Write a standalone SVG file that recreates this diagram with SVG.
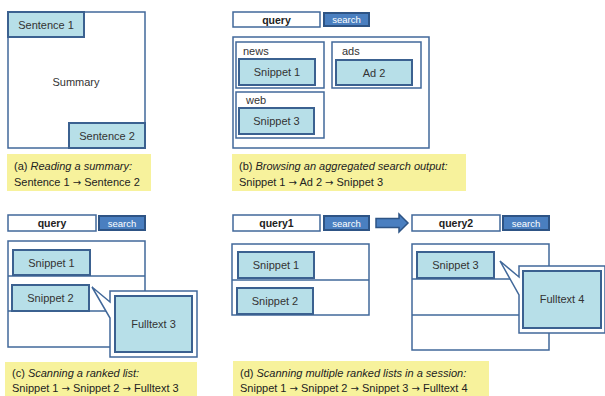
<svg xmlns="http://www.w3.org/2000/svg" width="605" height="396" viewBox="0 0 605 396">
  <style>
    text { font-family: "Liberation Sans", "DejaVu Sans", sans-serif; fill: #333; }
    .frame { fill: #fff; stroke: #41689a; stroke-width: 1.5; }
    .card { fill: #b7dfe8; stroke: #3b6190; stroke-width: 2; }
    .qbox { fill: #fff; stroke: #41689a; stroke-width: 1.5; }
    .btn { fill: #4a7fc0; stroke: #2e5485; stroke-width: 2; }
    .btnlbl { fill: #fff; font-size: 9.5px; text-anchor: middle; }
    .qlbl { font-size: 10.5px; font-weight: bold; text-anchor: middle; fill: #222; }
    .lbl { font-size: 11px; text-anchor: middle; }
    .tag { font-size: 11px; }
    .cap { fill: #f7f29c; }
    .captxt { font-size: 11px; fill: #222; }
    .it { font-style: italic; }
    .arr { font-family: "DejaVu Sans", sans-serif; font-size: 10px; }
    .line { stroke: #41689a; stroke-width: 1.5; fill: none; }
  </style>

  <!-- (a) summary -->
  <g id="summary">
    <rect class="frame" x="8" y="12" width="137" height="136"/>
    <text class="lbl" x="76" y="86">Summary</text>
  </g>
  <g id="sentence1">
    <rect class="card" x="8" y="12" width="76" height="25"/>
    <text class="lbl" x="46" y="28.5">Sentence 1</text>
  </g>
  <g id="sentence2">
    <rect class="card" x="69" y="123" width="76" height="25"/>
    <text class="lbl" x="107" y="139.5">Sentence 2</text>
  </g>
  <g id="caption-a">
    <rect class="cap" x="7" y="154" width="144" height="37"/>
    <text class="captxt" x="14" y="170">(a) <tspan class="it">Reading a summary:</tspan></text>
    <text class="captxt" x="14" y="186">Sentence 1 <tspan class="arr">→</tspan> Sentence 2</text>
  </g>

  <!-- (b) aggregated search -->
  <g id="query-b">
    <rect class="qbox" x="233" y="12" width="87" height="15"/>
    <text class="qlbl" x="276.5" y="23.5">query</text>
    <rect class="btn" x="324" y="13" width="45" height="13"/>
    <text class="btnlbl" x="346.5" y="23">search</text>
  </g>
  <g id="results-b">
    <rect class="frame" x="233" y="37" width="196" height="111"/>
  </g>
  <g id="news">
    <rect class="frame" x="236" y="42" width="88" height="46"/>
    <text class="tag" x="243" y="55">news</text>
    <rect class="card" x="239" y="59" width="76" height="26"/>
    <text class="lbl" x="277" y="76">Snippet 1</text>
  </g>
  <g id="ads">
    <rect class="frame" x="332" y="42" width="89" height="46"/>
    <text class="tag" x="342" y="55">ads</text>
    <rect class="card" x="336" y="60" width="76" height="25"/>
    <text class="lbl" x="374" y="76.5">Ad 2</text>
  </g>
  <g id="web">
    <rect class="frame" x="236" y="92" width="88" height="46"/>
    <text class="tag" x="246" y="104">web</text>
    <rect class="card" x="239" y="108" width="75" height="26"/>
    <text class="lbl" x="276.5" y="125">Snippet 3</text>
  </g>
  <g id="caption-b">
    <rect class="cap" x="232" y="154" width="234" height="37"/>
    <text class="captxt" x="239" y="170">(b) <tspan class="it">Browsing an aggregated search output:</tspan></text>
    <text class="captxt" x="239" y="186">Snippet 1 <tspan class="arr">→</tspan> Ad 2 <tspan class="arr">→</tspan> Snippet 3</text>
  </g>

  <!-- (c) ranked list -->
  <g id="query-c">
    <rect class="qbox" x="8" y="215" width="88" height="16"/>
    <text class="qlbl" x="52" y="227">query</text>
    <rect class="btn" x="99" y="216" width="46" height="14"/>
    <text class="btnlbl" x="122" y="226.5">search</text>
  </g>
  <g id="list-c">
    <rect class="frame" x="8" y="241" width="137" height="106"/>
    <line class="line" x1="8" y1="276" x2="145" y2="276"/>
    <line class="line" x1="8" y1="311" x2="145" y2="311"/>
  </g>
  <g id="snippet1-c">
    <rect class="card" x="13" y="250" width="77" height="25"/>
    <text class="lbl" x="51.5" y="266.5">Snippet 1</text>
  </g>
  <g id="snippet2-c">
    <rect class="card" x="12" y="285" width="77" height="26"/>
    <text class="lbl" x="50.5" y="302">Snippet 2</text>
  </g>
  <g id="fulltext3">
    <path class="frame" d="M110,291 H197 V357 H110 V318 L92,287 L110,302 Z"/>
    <rect class="card" x="115" y="296" width="77" height="56"/>
    <text class="lbl" x="153.5" y="328">Fulltext 3</text>
  </g>
  <g id="caption-c">
    <rect class="cap" x="5" y="362" width="192" height="34"/>
    <text class="captxt" x="12" y="377">(c) <tspan class="it">Scanning a ranked list:</tspan></text>
    <text class="captxt" x="12" y="392">Snippet 1 <tspan class="arr">→</tspan> Snippet 2 <tspan class="arr">→</tspan> Fulltext 3</text>
  </g>

  <!-- (d) session with two queries -->
  <g id="query1">
    <rect class="qbox" x="233" y="215" width="87" height="16"/>
    <text class="qlbl" x="276.5" y="227">query1</text>
    <rect class="btn" x="324" y="216" width="45" height="14"/>
    <text class="btnlbl" x="346.5" y="226.5">search</text>
  </g>
  <g id="list1">
    <rect class="frame" x="232" y="244" width="137" height="71"/>
    <line class="line" x1="232" y1="280" x2="369" y2="280"/>
  </g>
  <g id="snippet1-d">
    <rect class="card" x="238" y="252" width="76" height="26"/>
    <text class="lbl" x="276" y="269">Snippet 1</text>
  </g>
  <g id="snippet2-d">
    <rect class="card" x="237" y="288" width="76" height="26"/>
    <text class="lbl" x="275" y="305">Snippet 2</text>
  </g>
  <g id="connectors">
    <path d="M376,218.5 H399 V214 L408,223 L399,232 V227.5 H376 Z" fill="#4a7fc0" stroke="#2e5485" stroke-width="1.5"/>
  </g>
  <g id="query2">
    <rect class="qbox" x="412" y="215" width="88" height="16"/>
    <text class="qlbl" x="456" y="227">query2</text>
    <rect class="btn" x="503" y="216" width="46" height="14"/>
    <text class="btnlbl" x="526" y="226.5">search</text>
  </g>
  <g id="list2">
    <rect class="frame" x="412" y="244" width="137" height="106"/>
    <line class="line" x1="412" y1="279" x2="549" y2="279"/>
    <line class="line" x1="412" y1="315" x2="549" y2="315"/>
  </g>
  <g id="snippet3-d">
    <rect class="card" x="417" y="252" width="77" height="26"/>
    <text class="lbl" x="455.5" y="269">Snippet 3</text>
  </g>
  <g id="fulltext4">
    <path class="frame" d="M519,266 H605 V333 H519 V295 L500,261 L519,277 Z"/>
    <rect class="card" x="523" y="271" width="78" height="57"/>
    <text class="lbl" x="562" y="303">Fulltext 4</text>
  </g>
  <g id="caption-d">
    <rect class="cap" x="233" y="361" width="256" height="35"/>
    <text class="captxt" x="240" y="377">(d) <tspan class="it">Scanning multiple ranked lists in a session:</tspan></text>
    <text class="captxt" x="240" y="392">Snippet 1 <tspan class="arr">→</tspan> Snippet 2 <tspan class="arr">→</tspan> Snippet 3 <tspan class="arr">→</tspan> Fulltext 4</text>
  </g>
</svg>
